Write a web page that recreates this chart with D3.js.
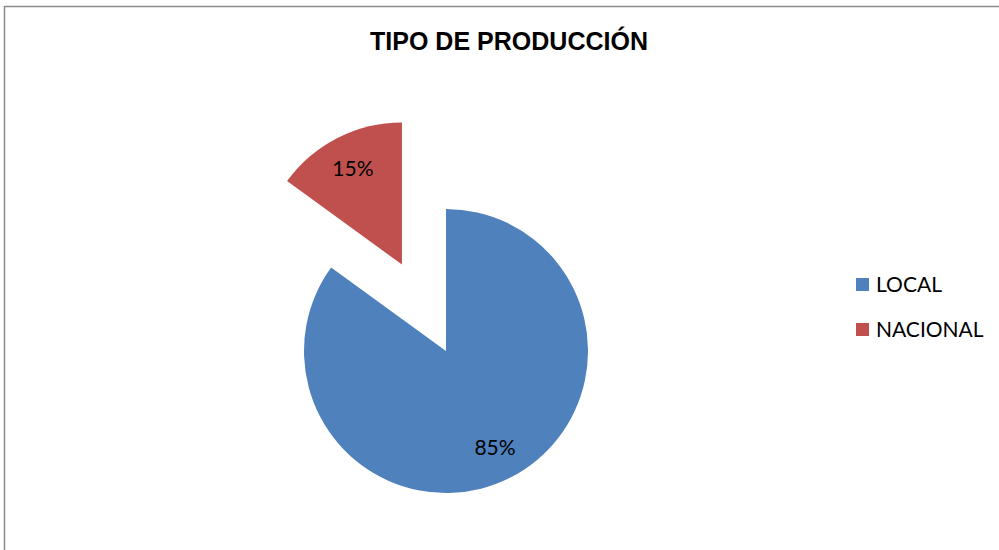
<!DOCTYPE html>
<meta charset="utf-8">
<script src="https://d3js.org/d3.v7.min.js"></script>
<style>
  body { margin: 0; background: #fff; }
</style>
<div id="chart"></div>
<script>
// data
var categories = ["LOCAL", "NACIONAL"];
var values = [85, 15];
var colors = ["#4F81BD", "#C0504D"];
var title = "TIPO DE PRODUCCIÓN";

var width = 999, height = 550;
var cx = 446, cy = 351, radius = 142;
var explode = 97; // offset of the detached slice

var svg = d3.select("#chart").append("svg")
  .attr("width", width)
  .attr("height", height);

// chart border
svg.append("rect")
  .attr("x", 4.5).attr("y", 6.5)
  .attr("width", 1010).attr("height", 560)
  .attr("fill", "none")
  .attr("stroke", "#8c8c8c")
  .attr("stroke-width", 1.5);

// title
svg.append("text")
  .attr("x", 509).attr("y", 50)
  .attr("text-anchor", "middle")
  .style("font-family", "Liberation Sans, Arial, sans-serif")
  .style("font-weight", "bold")
  .style("font-size", "25px")
  .attr("textLength", 278)
  .text(title);

var pie = d3.pie().sort(null).value(function(d) { return d; });
var arcs = pie(values);

var arc = d3.arc().innerRadius(0).outerRadius(radius);
var labelArc = d3.arc().innerRadius(radius * 0.76).outerRadius(radius * 0.76);

var g = svg.append("g")
  .attr("transform", "translate(" + cx + "," + cy + ")");

var slices = g.selectAll(".slice")
  .data(arcs)
  .enter().append("g")
  .attr("class", "slice")
  .attr("transform", function(d, i) {
    if (i === 0) return null;
    var a = (d.startAngle + d.endAngle) / 2;
    return "translate(" + (explode * Math.sin(a)) + "," + (-explode * Math.cos(a)) + ")";
  });

slices.append("path")
  .attr("d", arc)
  .attr("fill", function(d, i) { return colors[i]; });

slices.append("text")
  .attr("transform", function(d) { return "translate(" + labelArc.centroid(d) + ")"; })
  .attr("text-anchor", "middle")
  .attr("dy", "0.35em")
  .style("font-family", "Lato, Open Sans, sans-serif")
  .style("font-size", "21px")
  .style("fill", "#000")
  .text(function(d) { return d.data + "%"; });

// legend
var legend = svg.append("g")
  .attr("transform", "translate(856,278)");

var items = legend.selectAll(".item")
  .data(categories)
  .enter().append("g")
  .attr("class", "item")
  .attr("transform", function(d, i) { return "translate(0," + (i * 45) + ")"; });

items.append("rect")
  .attr("width", 13).attr("height", 13)
  .attr("fill", function(d, i) { return colors[i]; });

items.append("text")
  .attr("x", 20).attr("y", 14)
  .style("font-family", "Lato, Open Sans, sans-serif")
  .style("font-size", "21px")
  .text(function(d) { return d; });
</script>
